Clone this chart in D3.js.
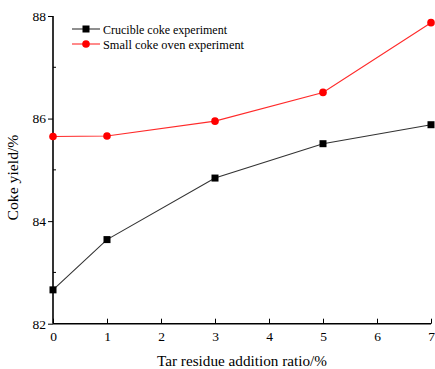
<!DOCTYPE html>
<html>
<head>
<meta charset="utf-8">
<script src="https://cdn.jsdelivr.net/npm/d3@7"></script>
<style>
  body { margin: 0; background: #fff; }
  text { font-family: "Liberation Serif", "Times New Roman", serif; }
</style>
</head>
<body>
<div id="chart"></div>
<script>
const ratios = [0, 1, 3, 5, 7];
const crucible = [82.66, 83.64, 84.84, 85.51, 85.88];
const smallOven = [85.65, 85.66, 85.95, 86.51, 87.87];
const yTicks = [82, 84, 86, 88];
const xTicks = [0, 1, 2, 3, 4, 5, 6, 7];

const margin = {top: 16, right: 4, bottom: 46, left: 53};
const width = 435 - margin.left - margin.right;
const height = 369 - margin.top - margin.bottom;

const svg = d3.select("#chart")
  .append("svg")
    .attr("width", 435)
    .attr("height", 369)
  .append("g")
    .attr("transform", `translate(${margin.left}, ${margin.top})`);

const x = d3.scaleLinear().domain([0, 7]).range([0, 378]);
const y = d3.scaleLinear().domain([82, 88]).range([height + 0.7, 0]);

// y axis, outward major ticks + small minor ticks
const yAxis = svg.append("g")
  .call(d3.axisLeft(y).tickValues(yTicks).tickSize(5).tickFormat(d3.format("d")));
yAxis.select(".domain").attr("stroke-width", 1.6).attr("d", `M0,${y(82)}V${y(88)}`);
yAxis.selectAll("text").attr("font-size", 13.5).attr("x", -7);
svg.append("g").selectAll("line")
  .data([83, 85, 87])
  .join("line")
    .attr("x1", 0).attr("x2", 3)
    .attr("y1", d => y(d)).attr("y2", d => y(d))
    .attr("stroke", "#000");

// x axis, ticks pointing up
const xAxis = svg.append("g")
  .attr("transform", `translate(0, ${y(82)})`)
  .call(d3.axisBottom(x).tickValues(xTicks).tickSize(-5).tickFormat(d3.format("d")));
xAxis.select(".domain").attr("stroke-width", 1.6).attr("d", `M0,0H${x(7)}`);
xAxis.selectAll("text").attr("font-size", 13.5).attr("y", 8);

const line = d3.line()
  .x((d, i) => x(ratios[i]))
  .y(d => y(d));

svg.append("path")
  .datum(crucible)
  .attr("fill", "none")
  .attr("stroke", "#333")
  .attr("stroke-width", 1.1)
  .attr("d", line);

svg.append("path")
  .datum(smallOven)
  .attr("fill", "none")
  .attr("stroke", "#ff2a2a")
  .attr("stroke-width", 1.1)
  .attr("d", line);

svg.selectAll(".sq")
  .data(crucible)
  .join("rect")
    .attr("class", "sq")
    .attr("x", (d, i) => x(ratios[i]) - 3.5)
    .attr("y", d => y(d) - 3.5)
    .attr("width", 7).attr("height", 7)
    .attr("fill", "#000");

svg.selectAll(".dot")
  .data(smallOven)
  .join("circle")
    .attr("class", "dot")
    .attr("cx", (d, i) => x(ratios[i]))
    .attr("cy", d => y(d))
    .attr("r", 3.8)
    .attr("fill", "#ff0000");

// legend
const legend = svg.append("g").attr("transform", "translate(19, 13)");
legend.append("line").attr("x1", 0).attr("x2", 28).attr("y1", 0).attr("y2", 0)
  .attr("stroke", "#333").attr("stroke-width", 1.1);
legend.append("rect").attr("x", 10.5).attr("y", -3.5).attr("width", 7).attr("height", 7).attr("fill", "#000");
legend.append("text").attr("x", 31).attr("y", 4.5).attr("font-size", 13)
  .attr("textLength", 124).attr("lengthAdjust", "spacingAndGlyphs")
  .text("Crucible coke experiment");
legend.append("line").attr("x1", 0).attr("x2", 28).attr("y1", 15).attr("y2", 15)
  .attr("stroke", "#ff2a2a").attr("stroke-width", 1.1);
legend.append("circle").attr("cx", 14).attr("cy", 15).attr("r", 3.8).attr("fill", "#ff0000");
legend.append("text").attr("x", 31).attr("y", 19.5).attr("font-size", 13)
  .attr("textLength", 141).attr("lengthAdjust", "spacingAndGlyphs")
  .text("Small coke oven experiment");

// axis titles
svg.append("text")
  .attr("transform", `translate(-35, ${y(84.85)}) rotate(-90)`)
  .attr("text-anchor", "middle")
  .attr("font-size", 14.5)
  .attr("textLength", 86).attr("lengthAdjust", "spacingAndGlyphs")
  .text("Coke yield/%");

svg.append("text")
  .attr("x", x(3.5))
  .attr("y", y(82) + 42)
  .attr("text-anchor", "middle")
  .attr("font-size", 14.5)
  .attr("textLength", 170).attr("lengthAdjust", "spacingAndGlyphs")
  .text("Tar residue addition ratio/%");
</script>
</body>
</html>
